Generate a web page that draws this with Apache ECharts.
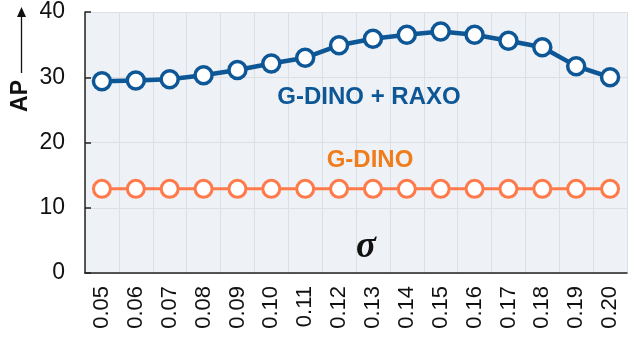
<!DOCTYPE html>
<html><head><meta charset="utf-8">
<script src="https://cdn.jsdelivr.net/npm/echarts@6/dist/echarts.min.js"></script>
<style>html,body{margin:0;padding:0;background:#fff}#c{width:634px;height:341px}</style>
</head><body><div id="c"></div>
<script>
const categories = ['0.05','0.06','0.07','0.08','0.09','0.10','0.11','0.12','0.13','0.14','0.15','0.16','0.17','0.18','0.19','0.20'];
const raxo = [29.4, 29.5, 29.7, 30.3, 31.1, 32.1, 33.0, 34.9, 35.9, 36.5, 37.0, 36.5, 35.6, 34.6, 31.7, 30.0];
const gdino = [12.9, 12.9, 12.9, 12.9, 12.9, 12.9, 12.9, 12.9, 12.9, 12.9, 12.9, 12.9, 12.9, 12.9, 12.9, 12.9];
const yTicks = [0, 10, 20, 30, 40];

const half = [];
for (let i = 0; i < categories.length * 2; i++) half.push(String(i));

const chart = echarts.init(document.getElementById('c'));
const font = 'Liberation Sans, Arial, sans-serif';
chart.setOption({
  animation: false,
  grid: { left: 85, right: 7, top: 12, bottom: 68, show: true, backgroundColor: '#eef1f5', borderWidth: 0 },
  xAxis: [
    { type: 'category', data: categories, boundaryGap: true,
      axisLine: { lineStyle: { color: '#222', width: 1.5 } },
      axisTick: { inside: true, length: 6, lineStyle: { color: '#222', width: 1.5 } },
      axisLabel: { rotate: 90, fontSize: 22, color: '#111', fontFamily: font, margin: 13 },
      splitLine: { show: false } },
    { type: 'category', data: half, boundaryGap: true, position: 'bottom',
      axisLine: { show: false }, axisTick: { show: false }, axisLabel: { show: false },
      splitLine: { show: true, lineStyle: { color: '#dcdfe4', width: 1 } } }
  ],
  yAxis: { type: 'value', min: yTicks[0], max: yTicks[yTicks.length - 1], interval: 10,
    axisLine: { show: true, lineStyle: { color: '#222', width: 1.5 } },
    axisTick: { show: true, inside: true, length: 6, lineStyle: { color: '#222', width: 1.5 } },
    axisLabel: { fontSize: 23, color: '#111', fontFamily: font, margin: 20 },
    splitLine: { show: true, lineStyle: { color: '#dcdfe4', width: 1 } } },
  series: [
    { type: 'line', data: raxo, xAxisIndex: 0, symbol: 'circle', symbolSize: 17,
      lineStyle: { color: '#0d5797', width: 4.5 },
      itemStyle: { color: '#ffffff', borderColor: '#0d5797', borderWidth: 3.5 }, z: 3 },
    { type: 'line', data: gdino, xAxisIndex: 0, symbol: 'circle', symbolSize: 17,
      lineStyle: { color: '#ff7a4a', width: 3 },
      itemStyle: { color: '#ffffff', borderColor: '#ff7a4a', borderWidth: 3 }, z: 3 }
  ],
  graphic: [
    { type: 'text', z: 100, style: { text: 'G-DINO + RAXO', x: 369, y: 97, align: 'center', verticalAlign: 'middle', font: 'bold 24px ' + font, fill: '#0d5797' } },
    { type: 'text', z: 100, style: { text: 'G-DINO', x: 370, y: 160, align: 'center', verticalAlign: 'middle', font: 'bold 24px ' + font, fill: '#f07d1c' } },
    { type: 'text', z: 100, style: { text: 'σ', x: 366, y: 247, align: 'center', verticalAlign: 'middle', font: 'italic bold 37px "Liberation Serif", "DejaVu Serif", serif', fill: '#111' } },
    { type: 'text', z: 100, rotation: Math.PI / 2, x: 21, y: 96, style: { text: 'AP', align: 'center', verticalAlign: 'middle', font: 'bold 23px ' + font, fill: '#111' } },
    { type: 'line', z: 100, shape: { x1: 21.5, y1: 73, x2: 21.5, y2: 16 }, style: { stroke: '#111', lineWidth: 1.3 } },
    { type: 'polygon', z: 100, shape: { points: [[21.5, 7], [17, 17], [26, 17]] }, style: { fill: '#111' } }
  ]
});
</script></body></html>
